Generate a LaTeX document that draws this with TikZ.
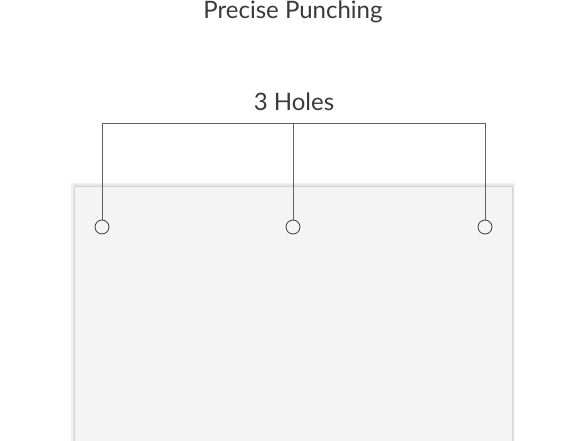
\documentclass[tikz,border=0pt]{standalone}
\usepackage{fontspec}
\setmainfont{Lato}
\usepackage{tikz}

\definecolor{sheetfill}{HTML}{F4F4F4}
\definecolor{sheetedge}{HTML}{D2D2D2}
\definecolor{inkgray}{HTML}{3A3A3A}

\begin{document}
\begin{tikzpicture}[x=0.75pt,y=0.75pt,yscale=-1,xscale=1,
  hole/.style={draw=inkgray,circle,line width=0.6pt,minimum size=10.5pt,inner sep=0pt},
  lead/.style={draw=inkgray!80,line width=0.5pt},
  caption/.style={inner sep=0.75pt,text=inkgray,font=\fontsize{18}{21}\selectfont}]
\useasboundingbox (0,0) rectangle (588,441);

%Shape: Sheet shadow
\fill [gray!10] (71,183) rectangle (515,445) ;
\fill [gray!18] (72.5,184.5) rectangle (513.5,445) ;
%Shape: Sheet
\draw [draw=sheetedge,fill=sheetfill,line width=0.7pt] (74,186) rectangle (512,445) ;

% Holes
\node [hole] (h1) at (102,227) {};
\node [hole] (h2) at (293,227) {};
\node [hole] (h3) at (485,227) {};

% Bracket
\coordinate (t1) at (102,123);
\coordinate (t2) at (293,123);
\coordinate (t3) at (485,123);
\draw [lead] (t1) -- (t3) ;
\draw [lead] (t1) -- (h1.north) ;
\draw [lead] (t2) -- (h2.north) ;
\draw [lead] (t3) -- (h3.north) ;

% Text Node
\node [caption] (title) at (293,12) {Precise Punching};
% Text Node
\node [caption] (count) at (294,102) {3 Holes};

\end{tikzpicture}
\end{document}
